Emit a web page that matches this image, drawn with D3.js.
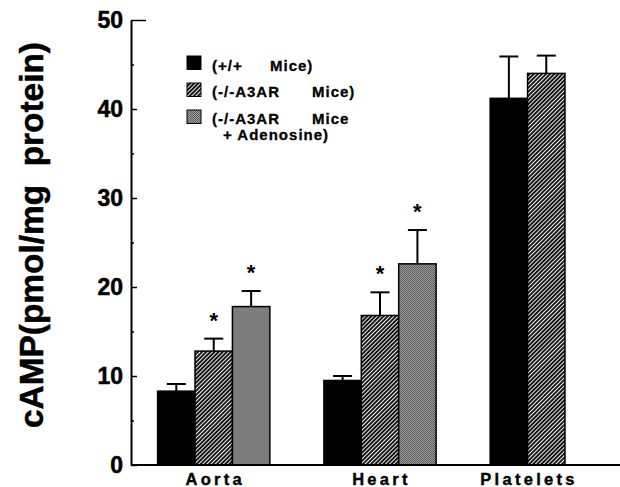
<!DOCTYPE html>
<html>
<head>
<meta charset="utf-8">
<script src="https://cdn.jsdelivr.net/npm/d3@7"></script>
<style>
  html, body { margin: 0; padding: 0; background: #fff; }
  svg { display: block; font-family: "Liberation Sans", Arial, Helvetica, sans-serif; }
</style>
</head>
<body>
<svg id="chart" width="620" height="487"></svg>
<script>
// ---- data ----
const categories = ["Aorta", "Heart", "Platelets"];
const seriesKeys = ["wt", "ko", "koAdo"];
const wildType = [8.3, 9.5, 41.2];
const wildTypeErr = [0.8, 0.5, 4.7];
const knockout = [12.8, 16.8, 44.0];
const knockoutErr = [1.4, 2.6, 2.0];
const knockoutAdo = [17.8, 22.6, null];
const knockoutAdoErr = [1.75, 3.8, null];
const significant = [[false, true, true], [false, true, true], [false, false, false]];
const yTicks = [0, 10, 20, 30, 40, 50];
const yMinorTicks = [5, 15, 25, 35, 45];
const legendLabels = [["(+/+", "Mice)"], ["(-/-A3AR", "Mice)"], ["(-/-A3AR", "Mice"], ["+ Adenosine)"]];
const yTitle = "cAMP(pmol/mg  protein)";

const values = [wildType, knockout, knockoutAdo];
const errors = [wildTypeErr, knockoutErr, knockoutAdoErr];

const svg = d3.select("#chart");

// patterns
const defs = svg.append("defs");
const hatch = defs.append("pattern").attr("id", "hatch")
  .attr("patternUnits", "userSpaceOnUse").attr("width", 2.9).attr("height", 10)
  .attr("patternTransform", "rotate(45)");
hatch.append("rect").attr("width", 2.9).attr("height", 10).attr("fill", "#111");
hatch.append("rect").attr("width", 1.0).attr("height", 10).attr("fill", "#f2f2f2");

const dots = defs.append("pattern").attr("id", "dots")
  .attr("patternUnits", "userSpaceOnUse").attr("width", 2).attr("height", 2);
dots.append("rect").attr("width", 2).attr("height", 2).attr("fill", "#a0a0a0");
dots.append("rect").attr("width", 1).attr("height", 1).attr("fill", "#5a5a5a");
dots.append("rect").attr("x", 1).attr("y", 1).attr("width", 1).attr("height", 1).attr("fill", "#5a5a5a");

const fills = { wt: "#000", ko: "url(#hatch)", koAdo: "url(#dots)" };

// scales
const x0 = 131, yBase = 465, yTop = 20;
const y = d3.scaleLinear().domain([0, 50]).range([yBase, yTop]);
const x = d3.scaleBand().domain(categories).range([x0, 629]).paddingInner(0.325).paddingOuter(0.16);
const xs = d3.scaleBand().domain(seriesKeys).range([0, x.bandwidth()]);

// bars
categories.forEach((cat, ci) => {
  const g = svg.append("g").attr("transform", `translate(${x(cat)},0)`);
  seriesKeys.forEach((k, si) => {
    const v = values[si][ci];
    if (v == null) return;
    const bx = xs(k), bw = xs.bandwidth();
    g.append("rect")
      .attr("x", bx).attr("y", y(v))
      .attr("width", bw).attr("height", y(0) - y(v))
      .attr("fill", fills[k]).attr("stroke", "#000").attr("stroke-width", 1.5);
    const e = errors[si][ci];
    const cx = bx + bw / 2;
    g.append("line").attr("x1", cx).attr("x2", cx).attr("y1", y(v)).attr("y2", y(v + e))
      .attr("stroke", "#000").attr("stroke-width", 2);
    g.append("line").attr("x1", cx - 9.5).attr("x2", cx + 9.5).attr("y1", y(v + e)).attr("y2", y(v + e))
      .attr("stroke", "#000").attr("stroke-width", 2);
    if (significant[ci][si]) {
      g.append("text").attr("x", cx).attr("y", y(v + e) - 11)
        .attr("text-anchor", "middle").attr("font-size", 22).attr("font-weight", "bold")
        .text("*");
    }
  });
});

// y axis
const yAxis = d3.axisLeft(y).tickValues(yTicks).tickSizeInner(-6).tickSizeOuter(0).tickPadding(8);
const gy = svg.append("g").attr("transform", `translate(${x0},0)`).call(yAxis);
gy.select(".domain").attr("stroke-width", 2);
gy.selectAll(".tick line").attr("stroke-width", 1.5)
  .filter(d => d === 50).attr("x2", 15);
gy.selectAll(".tick text").attr("font-size", 23).attr("font-weight", "bold")
  .attr("font-family", "Liberation Sans, Arial, sans-serif").attr("fill", "#000")
  .attr("stroke", "#000").attr("stroke-width", 0.5);
const gyMinor = svg.append("g").attr("transform", `translate(${x0},0)`)
  .call(d3.axisLeft(y).tickValues(yMinorTicks).tickSizeInner(-3).tickSizeOuter(0).tickFormat(""));
gyMinor.select(".domain").remove();
gyMinor.selectAll(".tick line").attr("stroke-width", 1.5);

// x axis
const gx = svg.append("g").attr("transform", `translate(0,${yBase})`)
  .call(d3.axisBottom(x).tickSize(0).tickFormat(""));
gx.select(".domain").attr("stroke-width", 2).attr("d", `M${x0},0H620`);

// category labels (centred under bars present)
categories.forEach((cat, ci) => {
  const n = values.filter(s => s[ci] != null).length;
  const cx = x(cat) + n * xs.bandwidth() / 2;
  svg.append("text").attr("x", cx + 1.5).attr("y", 485)
    .attr("text-anchor", "middle").attr("font-size", 16.5).attr("font-weight", "bold")
    .attr("stroke", "#000").attr("stroke-width", 0.4)
    .attr("letter-spacing", "3.3px").text(cat);
});

// y title
svg.append("text")
  .attr("transform", "translate(43,235) rotate(-90)")
  .attr("text-anchor", "middle").attr("font-size", 34).attr("font-weight", "bold")
  .attr("stroke", "#000").attr("stroke-width", 0.5)
  .attr("textLength", 386).attr("lengthAdjust", "spacingAndGlyphs")
  .style("white-space", "pre")
  .text(yTitle);

// legend
const legendSwatch = [{ y: 56, f: fills.wt }, { y: 83, f: fills.ko }, { y: 110, f: fills.koAdo }];
legendSwatch.forEach(s => {
  svg.append("rect").attr("x", 187).attr("y", s.y).attr("width", 14).attr("height", 13.5)
    .attr("fill", s.f).attr("stroke", "#000").attr("stroke-width", 1);
});
const legendPos = [
  [{ x: 212, y: 71 }, { x: 270, y: 71 }],
  [{ x: 212, y: 97 }, { x: 312, y: 97 }],
  [{ x: 212, y: 123.5 }, { x: 312, y: 123.5 }],
  [{ x: 223, y: 140 }]
];
legendLabels.forEach((line, li) => {
  line.forEach((t, ti) => {
    svg.append("text").attr("x", legendPos[li][ti].x).attr("y", legendPos[li][ti].y)
      .attr("font-size", 15).attr("font-weight", "bold").attr("letter-spacing", "1px")
      .attr("stroke", "#000").attr("stroke-width", 0.3)
      .style("white-space", "pre").text(t);
  });
});
</script>
</body>
</html>
